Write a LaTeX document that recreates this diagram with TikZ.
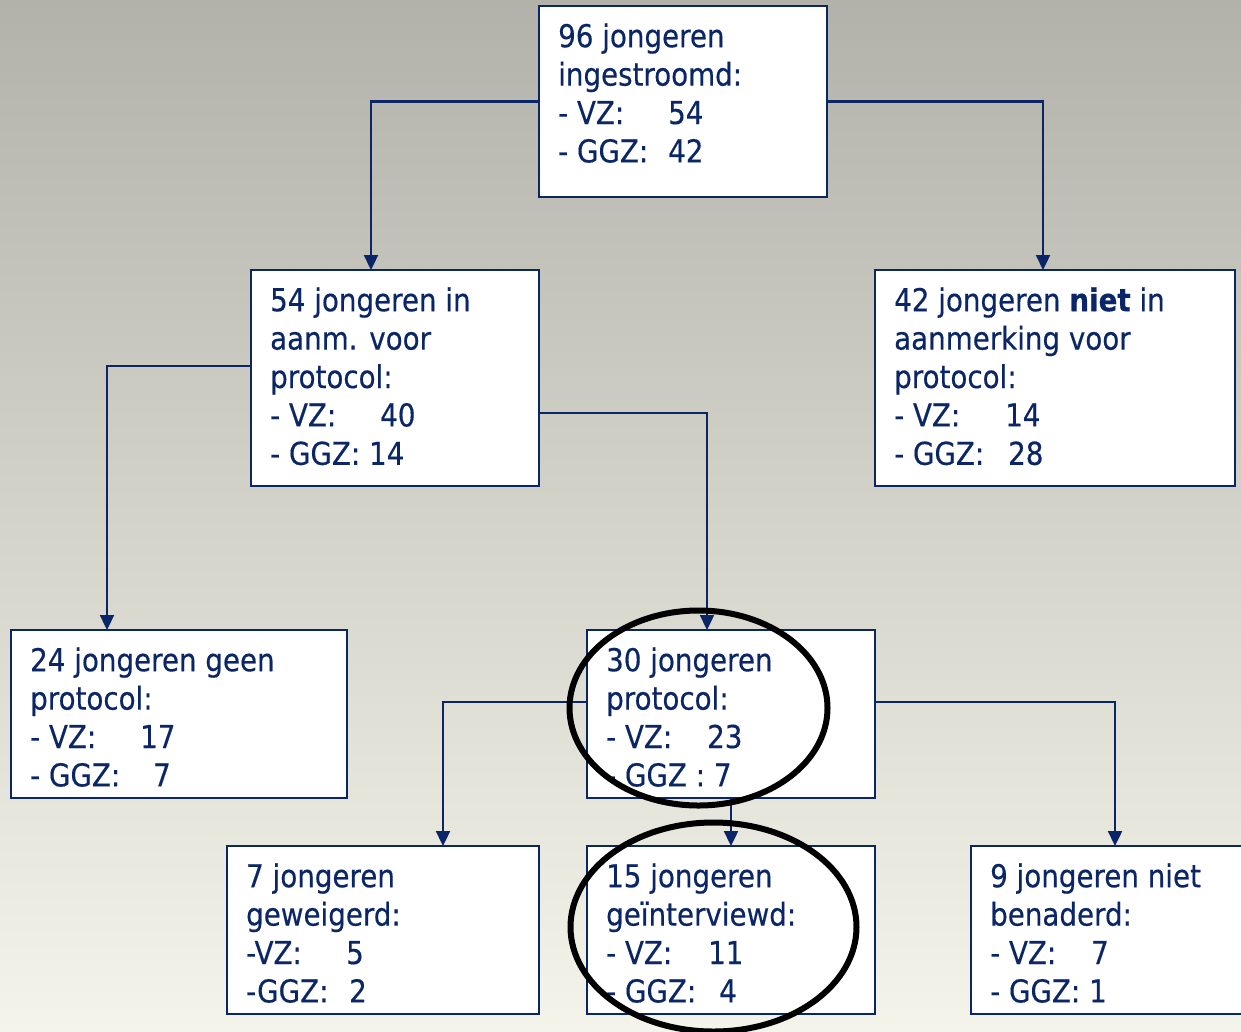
\documentclass[tikz,border=0pt]{standalone}
\usepackage{fontspec}
\setmainfont{DejaVu Sans}[FakeStretch=0.88,FakeBold=0.4]
\usetikzlibrary{arrows.meta}
\definecolor{navy}{RGB}{10,38,102}
\definecolor{bgtop}{RGB}{178,178,170}
\definecolor{bgmid}{RGB}{218,218,210}
\definecolor{bgbot}{RGB}{245,244,234}
\newcommand{\tb}[2]{\makebox[#1pt][l]{#2}}
\newcommand{\fl}{\rule{0pt}{26pt}}
\begin{document}
\begin{tikzpicture}[x=1pt,y=-1pt,
 box/.style={draw=navy,line width=2pt,fill=white,inner sep=0pt,outer sep=0pt,anchor=north west},
 txt/.style={anchor=north west,inner sep=0pt,align=left,text=navy,font=\fontsize{31.5}{38.4}\selectfont},
 conn/.style={draw=navy,line width=2.3pt,-{Triangle[length=15pt,width=14pt]}},
 ring/.style={draw=black,line width=6pt}]
\clip (0,0) rectangle (1241,1031);
\shade[top color=bgtop,middle color=bgmid,bottom color=bgbot] (0,0) rectangle (1241,1031);
% boxes
\node[box,minimum width=288pt,minimum height=191pt] (A) at (539,6) {};
\node[box,minimum width=288pt,minimum height=216pt] (B) at (251,270) {};
\node[box,minimum width=360pt,minimum height=216pt] (C) at (875,270) {};
\node[box,minimum width=336pt,minimum height=168pt] (D) at (11,630) {};
\node[box,minimum width=288pt,minimum height=168pt] (E) at (587,630) {};
\node[box,minimum width=312pt,minimum height=168pt] (F) at (227,846) {};
\node[box,minimum width=288pt,minimum height=168pt] (G) at (587,846) {};
\node[box,minimum width=290pt,minimum height=168pt] (H) at (971,846) {};
% texts
\node[txt] (At) at ([xshift=19pt,yshift=-15pt]A.north west) {\fl 96 jongeren\\ingestroomd:\\\tb{110}{- VZ:}54\\\tb{110}{- GGZ:}42};
\node[txt] (Bt) at ([xshift=19pt,yshift=-15pt]B.north west) {\fl 54 jongeren in\\aanm. voor\\protocol:\\\tb{110}{- VZ:}40\\- GGZ: 14};
\node[txt] (Ct) at ([xshift=19pt,yshift=-15pt]C.north west) {\fl 42 jongeren \textbf{niet} in\\aanmerking voor\\protocol:\\\tb{111}{- VZ:}14\\\tb{114}{- GGZ:}28};
\node[txt] (Dt) at ([xshift=19pt,yshift=-15pt]D.north west) {\fl 24 jongeren geen\\protocol:\\\tb{110}{- VZ:}17\\\tb{123}{- GGZ:}7};
\node[txt] (Et) at ([xshift=19pt,yshift=-15pt]E.north west) {\fl 30 jongeren\\protocol:\\\tb{101}{- VZ:}23\\- GGZ : 7};
\node[txt] (Ft) at ([xshift=19pt,yshift=-15pt]F.north west) {\fl 7 jongeren\\geweigerd:\\\tb{100}{-VZ:}5\\\tb{103}{-GGZ:}2};
\node[txt] (Gt) at ([xshift=19pt,yshift=-15pt]G.north west) {\fl 15 jongeren\\geïnterviewd:\\\tb{102}{- VZ:}11\\\tb{113}{- GGZ:}4};
\node[txt] (Ht) at ([xshift=19pt,yshift=-15pt]H.north west) {\fl 9 jongeren niet\\benaderd:\\\tb{101}{- VZ:}7\\- GGZ: 1};
% connectors
\draw[conn] (A.west) -| ([xshift=120pt]B.north west);
\draw[conn] (A.east) -| ([xshift=168pt]C.north west);
\draw[conn] ([yshift=-96pt]B.north west) -| ([xshift=96pt]D.north west);
\draw[conn] ([yshift=-143pt]B.north east) -| ([xshift=120pt]E.north west);
\draw[conn] ([yshift=-72pt]E.north west) -| ([xshift=216pt]F.north west);
\draw[conn] (E.south) -- (G.north);
\draw[conn] ([yshift=-72pt]E.north east) -| ([xshift=144pt]H.north west);
% rings
\draw[ring] (698.5,708) ellipse [x radius=129pt, y radius=97.5pt];
\draw[ring] (713.5,927) ellipse [x radius=143pt, y radius=104.5pt];
\end{tikzpicture}
\end{document}
